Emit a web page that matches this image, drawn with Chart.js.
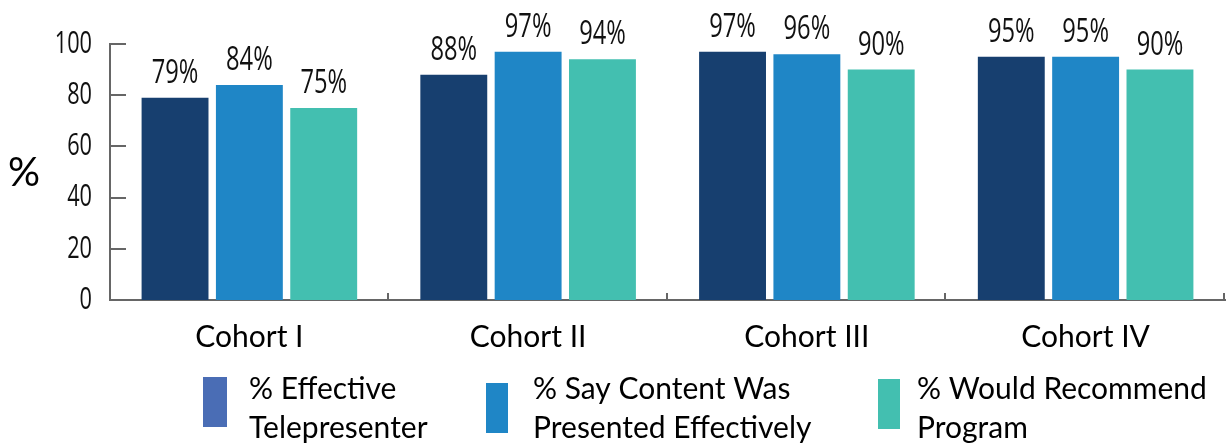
<!DOCTYPE html>
<html>
<head>
<meta charset="utf-8">
<script src="https://cdn.jsdelivr.net/npm/chart.js@4.4.1/dist/chart.umd.min.js"></script>
<style>
  html, body { margin: 0; padding: 0; background: #ffffff; }
  #wrap { width: 1229px; height: 446px; position: relative; }
</style>
</head>
<body>
<div id="wrap"><canvas id="c" width="1229" height="446"></canvas></div>
<script>
const categories = ["Cohort I", "Cohort II", "Cohort III", "Cohort IV"];
const seriesNames = ["% Effective Telepresenter", "% Say Content Was Presented Effectively", "% Would Recommend Program"];
const legendLines = [["% Effective", "Telepresenter"], ["% Say Content Was", "Presented Effectively"], ["% Would Recommend", "Program"]];
const effectiveTelepresenter = [79, 88, 97, 95];
const contentPresented = [84, 97, 96, 95];
const wouldRecommend = [75, 94, 90, 90];
const yTicks = [0, 20, 40, 60, 80, 100];

const barColors = ["#173f6f", "#1f86c6", "#43bfb0"];
const legendColors = ["#4a6db5", "#1f86c6", "#43bfb0"];
const narrow = '"Open Sans", "Noto Sans", sans-serif';
const body = 'Lato, "Open Sans", sans-serif';
const axisGray = "#666666";

function condensedText(ctx, text, x, y, align, sx) {
  ctx.save();
  ctx.translate(x, y);
  ctx.scale(sx, 1);
  ctx.textAlign = align;
  ctx.fillText(text, 0, 0);
  ctx.restore();
}

const extras = {
  id: "extras",
  afterDatasetsDraw(chart) {
    const ctx = chart.ctx;
    const x = chart.scales.x, y = chart.scales.y;
    ctx.save();
    // y ticks drawn inward
    ctx.strokeStyle = axisGray;
    ctx.lineWidth = 2;
    yTicks.forEach(v => {
      const py = Math.round(y.getPixelForValue(v));
      ctx.beginPath();
      ctx.moveTo(x.left, py);
      ctx.lineTo(x.left + 16, py);
      ctx.stroke();
    });
    // category boundary ticks on x axis
    for (let i = 1; i <= categories.length; i++) {
      const px = x.left + (x.right - x.left) * i / categories.length;
      ctx.beginPath();
      ctx.moveTo(Math.round(px) - 1, y.bottom);
      ctx.lineTo(Math.round(px) - 1, y.bottom - 7);
      ctx.stroke();
    }
    // y tick labels (condensed)
    ctx.fillStyle = "#111111";
    ctx.font = "31px " + narrow;
    ctx.textBaseline = "middle";
    yTicks.forEach(v => {
      condensedText(ctx, String(v), 92, y.getPixelForValue(v), "right", 0.7);
    });
    // value labels
    ctx.font = "32px " + narrow;
    ctx.textBaseline = "alphabetic";
    chart.data.datasets.forEach((ds, di) => {
      const meta = chart.getDatasetMeta(di);
      meta.data.forEach((bar, i) => {
        condensedText(ctx, ds.data[i] + "%", bar.x, bar.y - 15, "center", 0.74);
      });
    });
    // y axis title
    ctx.font = "40px " + body;
    ctx.fillStyle = "#000000";
    ctx.textAlign = "center";
    ctx.textBaseline = "middle";
    ctx.fillText("%", 24, 173);
    // legend
    const legendX = [203, 486, 878];
    const legendW = [24, 22, 22];
    const legendTextX = [249, 533, 917];
    const swTop = [377, 383, 379];
    ctx.font = "30px " + body;
    ctx.textAlign = "left";
    ctx.textBaseline = "alphabetic";
    legendLines.forEach((lines, i) => {
      ctx.fillStyle = legendColors[i];
      ctx.fillRect(legendX[i], swTop[i], legendW[i], 50);
      ctx.fillStyle = "#000000";
      ctx.fillText(lines[0], legendTextX[i], 399);
      ctx.fillText(lines[1], legendTextX[i], 438);
    });
    ctx.restore();
  }
};

new Chart(document.getElementById("c"), {
  type: "bar",
  data: {
    labels: categories,
    datasets: [
      { label: seriesNames[0], data: effectiveTelepresenter, backgroundColor: barColors[0] },
      { label: seriesNames[1], data: contentPresented, backgroundColor: barColors[1] },
      { label: seriesNames[2], data: wouldRecommend, backgroundColor: barColors[2] }
    ]
  },
  options: {
    responsive: false,
    animation: false,
    events: [],
    categoryPercentage: 0.8,
    barPercentage: 0.9,
    layout: { padding: { top: 44, right: 4, bottom: 0, left: 0 } },
    plugins: { legend: { display: false }, tooltip: { enabled: false } },
    scales: {
      x: {
        grid: { display: false, drawTicks: false },
        border: { display: true, color: axisGray, width: 2 },
        ticks: { color: "#000000", font: { family: body, size: 30 }, padding: 19 },
        afterFit(s) { s.height = 146; }
      },
      y: {
        min: 0, max: 100,
        afterBuildTicks(s) { s.ticks = yTicks.map(v => ({ value: v })); },
        grid: { display: false, drawTicks: false },
        border: { display: true, color: axisGray, width: 2 },
        ticks: { display: false },
        afterFit(s) { s.width = 110; }
      }
    }
  },
  plugins: [extras]
});
</script>
</body>
</html>
